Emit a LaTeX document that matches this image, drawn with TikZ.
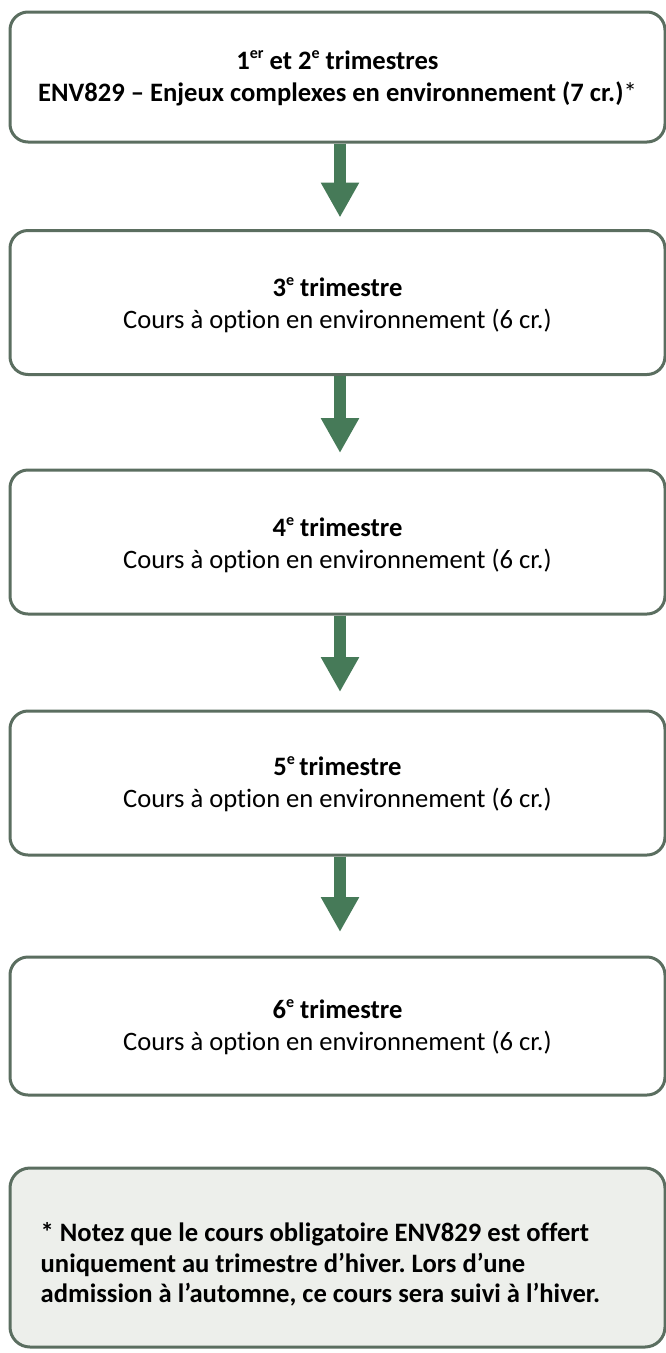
\documentclass[tikz,border=0pt]{standalone}
\usepackage{fontspec}
\setmainfont{Carlito}[RawFeature=-liga]
\usetikzlibrary{arrows.meta}
\definecolor{bordc}{HTML}{5B6E60}
\definecolor{arrc}{HTML}{467A58}
\definecolor{notec}{HTML}{EDEFEB}
\frenchspacing
\newcommand{\supx}[1]{\raisebox{0.42em}{\fontsize{16}{16}\selectfont #1}}
\begin{document}
\begin{tikzpicture}[x=1pt,y=-1pt,
  stagebox/.style={draw=bordc, line width=3pt, rounded corners=18pt, fill=white,
    minimum width=655pt, inner sep=0pt},
  stagetext/.style={align=center, inner sep=0pt,
    font=\fontsize{26.6}{32}\selectfont},
  notebox/.style={draw=bordc, line width=3pt, rounded corners=20pt, fill=notec,
    minimum width=655pt, inner sep=0pt},
  notetext/.style={align=left, inner sep=0pt, font=\fontsize{26.6}{30.5}\selectfont\bfseries},
  flowarrow/.style={draw=arrc, line width=12pt, -{Triangle[width=36pt,length=35pt]}}]
\useasboundingbox (0,0) rectangle (666,1353);

\node[stagebox, minimum height=130pt] (b1) at (337.5,77) {};
\node[stagetext] (t1) at ([yshift=-1pt]b1.center)
  {\textbf{1\supx{er} et 2\supx{e} trimestres}\\
   \textbf{ENV829 – Enjeux complexes en environnement (7 cr.)}*};
\node[stagebox, minimum height=144pt] (b2) at (337.5,302.5) {};
\node[stagetext] (t2) at ([yshift=-3pt]b2.center)
  {\textbf{3\supx{e} trimestre}\\Cours à option en environnement (6 cr.)};
\node[stagebox, minimum height=144pt] (b3) at (337.5,542) {};
\node[stagetext] (t3) at ([yshift=-3pt]b3.center)
  {\textbf{4\supx{e} trimestre}\\Cours à option en environnement (6 cr.)};
\node[stagebox, minimum height=144pt] (b4) at (337.5,783) {};
\node[stagetext] (t4) at ([yshift=-1pt]b4.center)
  {\textbf{5\supx{e}\,trimestre}\\Cours à option en environnement (6 cr.)};
\node[stagebox, minimum height=138pt] (b5) at (337.5,1026) {};
\node[stagetext] (t5) at ([yshift=-1pt]b5.center)
  {\textbf{6\supx{e} trimestre}\\Cours à option en environnement (6 cr.)};

\node[notebox, minimum height=179pt] (nb) at (337.5,1257.5) {};
\node[notetext, anchor=west] (nt) at ([xshift=32pt,yshift=-7pt]nb.west)
  {* Notez que le cours obligatoire ENV829 est offert\\
   uniquement au trimestre d’hiver. Lors d’une\\
   admission à l’automne, ce cours sera suivi à l’hiver.};

\draw[flowarrow, shorten >=11.5pt] ([xshift=2.5pt]b1.south) -- ([xshift=2.5pt]b2.north);
\draw[flowarrow, shorten >=15.5pt] ([xshift=2.5pt]b2.south) -- ([xshift=2.5pt]b3.north);
\draw[flowarrow, shorten >=17.5pt] ([xshift=2.5pt]b3.south) -- ([xshift=2.5pt]b4.north);
\draw[flowarrow, shorten >=23.5pt] ([xshift=2.5pt]b4.south) -- ([xshift=2.5pt]b5.north);
\end{tikzpicture}
\end{document}
